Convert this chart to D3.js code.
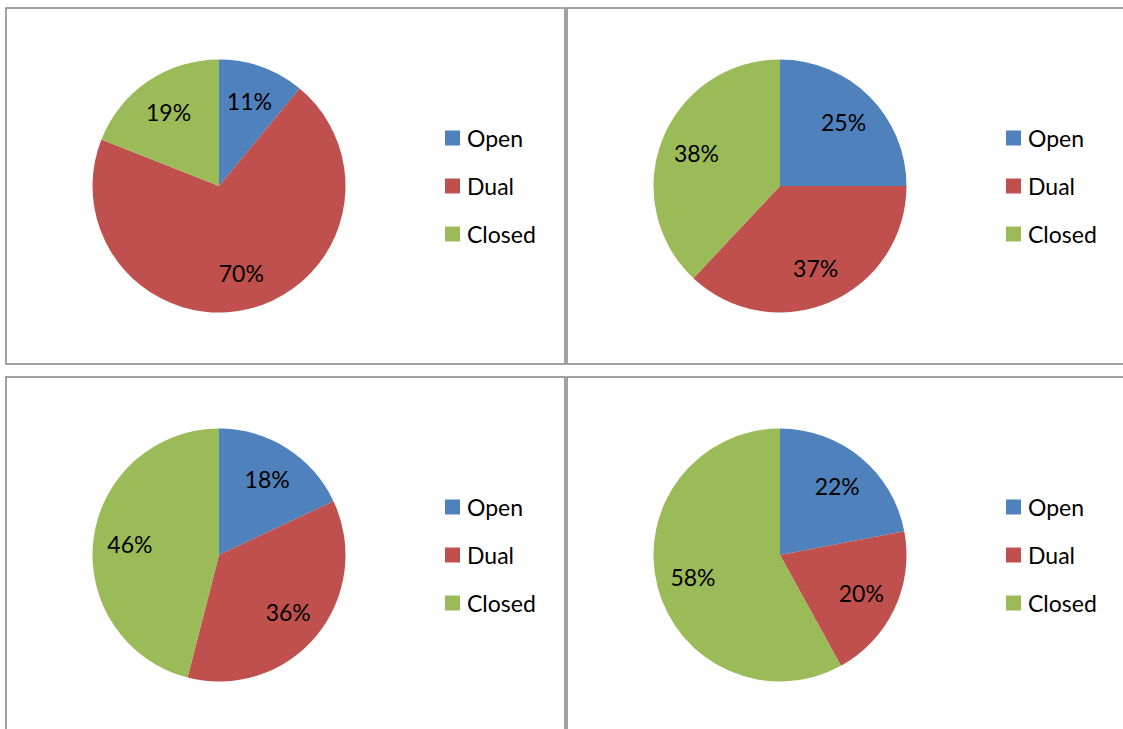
<!DOCTYPE html>
<html>
<head>
<meta charset="utf-8">
<script src="https://cdn.jsdelivr.net/npm/d3@7"></script>
<style>
  html, body { margin: 0; padding: 0; background: #ffffff; overflow: hidden; }
  svg { display: block; }
  text { font-family: Lato, "Noto Sans", sans-serif; fill: #000; }
</style>
</head>
<body>
<svg id="chart" width="1123" height="729"></svg>
<script>
// Access categories and their shares (%) in each of the four groups
const categories = ["Open", "Dual", "Closed"];
const groupA = [11, 70, 19];
const groupB = [25, 37, 38];
const groupC = [18, 36, 46];
const groupD = [22, 20, 58];
const groups = [groupA, groupB, groupC, groupD];

const colors = ["#4F81BD", "#C0504D", "#9BBB59"];

const svg = d3.select("#chart");

// Panel grid: two columns, two rows, each panel framed
const panelW = 559, panelH = 356;
const colX = d3.scaleOrdinal().domain([0, 1]).range([6, 567]);
const rowY = d3.scaleOrdinal().domain([0, 1]).range([8, 377]);

const radius = 126.5;
const pieCx = 213, pieCy = 178;

const color = d3.scaleOrdinal().domain(categories).range(colors);

const pie = d3.pie()
  .sort(null)
  .value(d => d.value)
  .startAngle(0)
  .endAngle(2 * Math.PI);

const arc = d3.arc().innerRadius(0).outerRadius(radius);
const labelArc = d3.arc().innerRadius(radius * 0.71).outerRadius(radius * 0.71);

// Legend rows
const legendY = d3.scalePoint().domain(categories).range([130, 226]);

groups.forEach((vals, i) => {
  const col = i % 2, row = Math.floor(i / 2);
  const g = svg.append("g")
    .attr("transform", `translate(${colX(col)},${rowY(row)})`);

  g.append("rect")
    .attr("x", 0).attr("y", 0)
    .attr("width", panelW).attr("height", panelH)
    .attr("fill", "none")
    .attr("stroke", "#8a8a8a")
    .attr("stroke-width", 1.6);

  const data = categories.map((c, k) => ({ category: c, value: vals[k] }));
  const arcs = pie(data);

  const pg = g.append("g").attr("transform", `translate(${pieCx},${pieCy})`);

  pg.selectAll("path.slice")
    .data(arcs)
    .join("path")
    .attr("class", "slice")
    .attr("d", arc)
    .attr("fill", d => color(d.data.category));

  pg.selectAll("text.pct")
    .data(arcs)
    .join("text")
    .attr("class", "pct")
    .attr("transform", d => `translate(${labelArc.centroid(d)})`)
    .attr("text-anchor", "middle")
    .attr("dominant-baseline", "central")
    .attr("font-size", 23)
    .text(d => d.data.value + "%");

  const lg = g.append("g").attr("transform", "translate(439,0)");
  const items = lg.selectAll("g.item")
    .data(categories)
    .join("g")
    .attr("class", "item")
    .attr("transform", c => `translate(0,${legendY(c)})`);

  items.append("rect")
    .attr("x", 0).attr("y", -7.5)
    .attr("width", 15).attr("height", 15)
    .attr("fill", c => color(c));

  items.append("text")
    .attr("x", 22)
    .attr("y", 0)
    .attr("dominant-baseline", "central")
    .attr("font-size", 23)
    .text(c => c);
});
</script>
</body>
</html>
